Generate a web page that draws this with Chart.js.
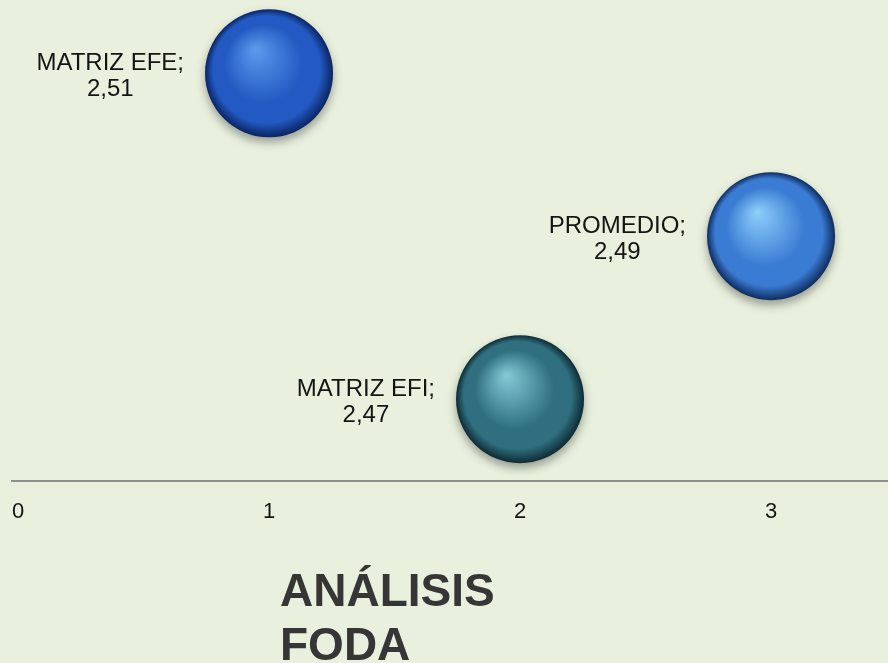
<!DOCTYPE html>
<html>
<head>
<meta charset="utf-8">
<script src="https://cdn.jsdelivr.net/npm/chart.js@4/dist/chart.umd.min.js"></script>
<style>
  html, body { margin: 0; padding: 0; overflow: hidden; }
  body { background: #e9f1de; width: 888px; height: 663px; }
  #wrap { position: relative; width: 888px; height: 663px; }
</style>
</head>
<body>
<div id="wrap"><canvas id="foda"></canvas></div>
<script>
// chart data
const seriesNames = ['MATRIZ EFE', 'MATRIZ EFI', 'PROMEDIO'];
const xValues = [1, 2, 3];
const yValues = [2.51, 2.47, 2.49];
const xTicks = [0, 1, 2, 3];
const titleLines = ['ANÁLISIS', 'FODA'];

// sphere colours: [highlight, base, edge]
const sphereColors = [
  ['#5d9bee', '#2259c2', '#0b2461'],
  ['#86cbd8', '#2f6f80', '#0e2b33'],
  ['#8fd0fb', '#3a7bd3', '#0f2c5e']
];

const FONT = '"Liberation Sans", Arial, sans-serif';

function sphereFill(ctx, i) {
  const chart = ctx.chart;
  const xs = chart.scales.x, ys = chart.scales.y;
  if (!xs || !ys || !ctx.raw) return sphereColors[i][1];
  const cx = xs.getPixelForValue(ctx.raw.x);
  const cy = ys.getPixelForValue(ctx.raw.y);
  if (!isFinite(cx) || !isFinite(cy)) return sphereColors[i][1];
  const r = 64;
  const g = chart.ctx.createRadialGradient(cx - r * 0.22, cy - r * 0.38, 0, cx, cy, r);
  const c = sphereColors[i];
  g.addColorStop(0, c[0]);
  g.addColorStop(0.62, c[1]);
  g.addColorStop(0.84, c[1]);
  g.addColorStop(1, c[2]);
  return g;
}

const datasets = seriesNames.map((name, i) => ({
  label: name,
  data: [{ x: xValues[i], y: yValues[i] }],
  radius: 64,
  borderWidth: 0,
  hoverRadius: 0,
  clip: false,
  backgroundColor: ctx => sphereFill(ctx, i)
}));

// soft drop shadow under the spheres
const shadowPlugin = {
  id: 'shadow',
  beforeDatasetsDraw(chart) {
    const c = chart.ctx;
    c.save();
    c.shadowColor = 'rgba(0,0,0,0.35)';
    c.shadowBlur = 10;
    c.shadowOffsetY = 5;
  },
  afterDatasetsDraw(chart) {
    chart.ctx.restore();
  }
};

// "NAME; value" labels left of each bubble, plus the title
const labelPlugin = {
  id: 'labels',
  afterDraw(chart) {
    const c = chart.ctx;
    c.save();
    c.font = '24px ' + FONT;
    c.fillStyle = '#141414';
    c.textAlign = 'center';
    c.textBaseline = 'middle';
    chart.data.datasets.forEach((ds, i) => {
      const el = chart.getDatasetMeta(i).data[0];
      const lines = [ds.label + ';', yValues[i].toFixed(2).replace('.', ',')];
      const w = Math.max(...lines.map(t => c.measureText(t).width));
      const mid = el.x - 64 - 21 - w / 2;
      c.fillText(lines[0], mid, el.y - 10);
      c.fillText(lines[1], mid, el.y + 16);
    });
    c.font = 'bold 46px ' + FONT;
    c.fillStyle = '#363636';
    c.textAlign = 'left';
    c.textBaseline = 'alphabetic';
    titleLines.forEach((t, k) => c.fillText(t, 280, 606 + k * 54));
    c.restore();
  }
};

new Chart(document.getElementById('foda'), {
  type: 'bubble',
  data: { datasets: datasets },
  options: {
    responsive: true,
    maintainAspectRatio: false,
    animation: false,
    layout: { autoPadding: false, padding: { left: 12, right: 0, top: 0, bottom: 120 } },
    plugins: {
      legend: { display: false },
      tooltip: { enabled: false }
    },
    scales: {
      x: {
        type: 'linear',
        min: -0.024,
        max: 3.466,
        afterBuildTicks: scale => { scale.ticks = xTicks.map(v => ({ value: v })); },
        afterFit: scale => { scale.paddingLeft = 0; scale.paddingRight = 0; },
        grid: { display: false, drawTicks: false },
        border: { display: true, color: '#8e8e8e', width: 2 },
        ticks: {
          padding: 18,
          color: '#141414',
          font: { size: 22, family: FONT },
          maxRotation: 0,
          autoSkip: false
        }
      },
      y: {
        display: false,
        min: 2.46,
        max: 2.519
      }
    }
  },
  plugins: [shadowPlugin, labelPlugin]
});
</script>
</body>
</html>
